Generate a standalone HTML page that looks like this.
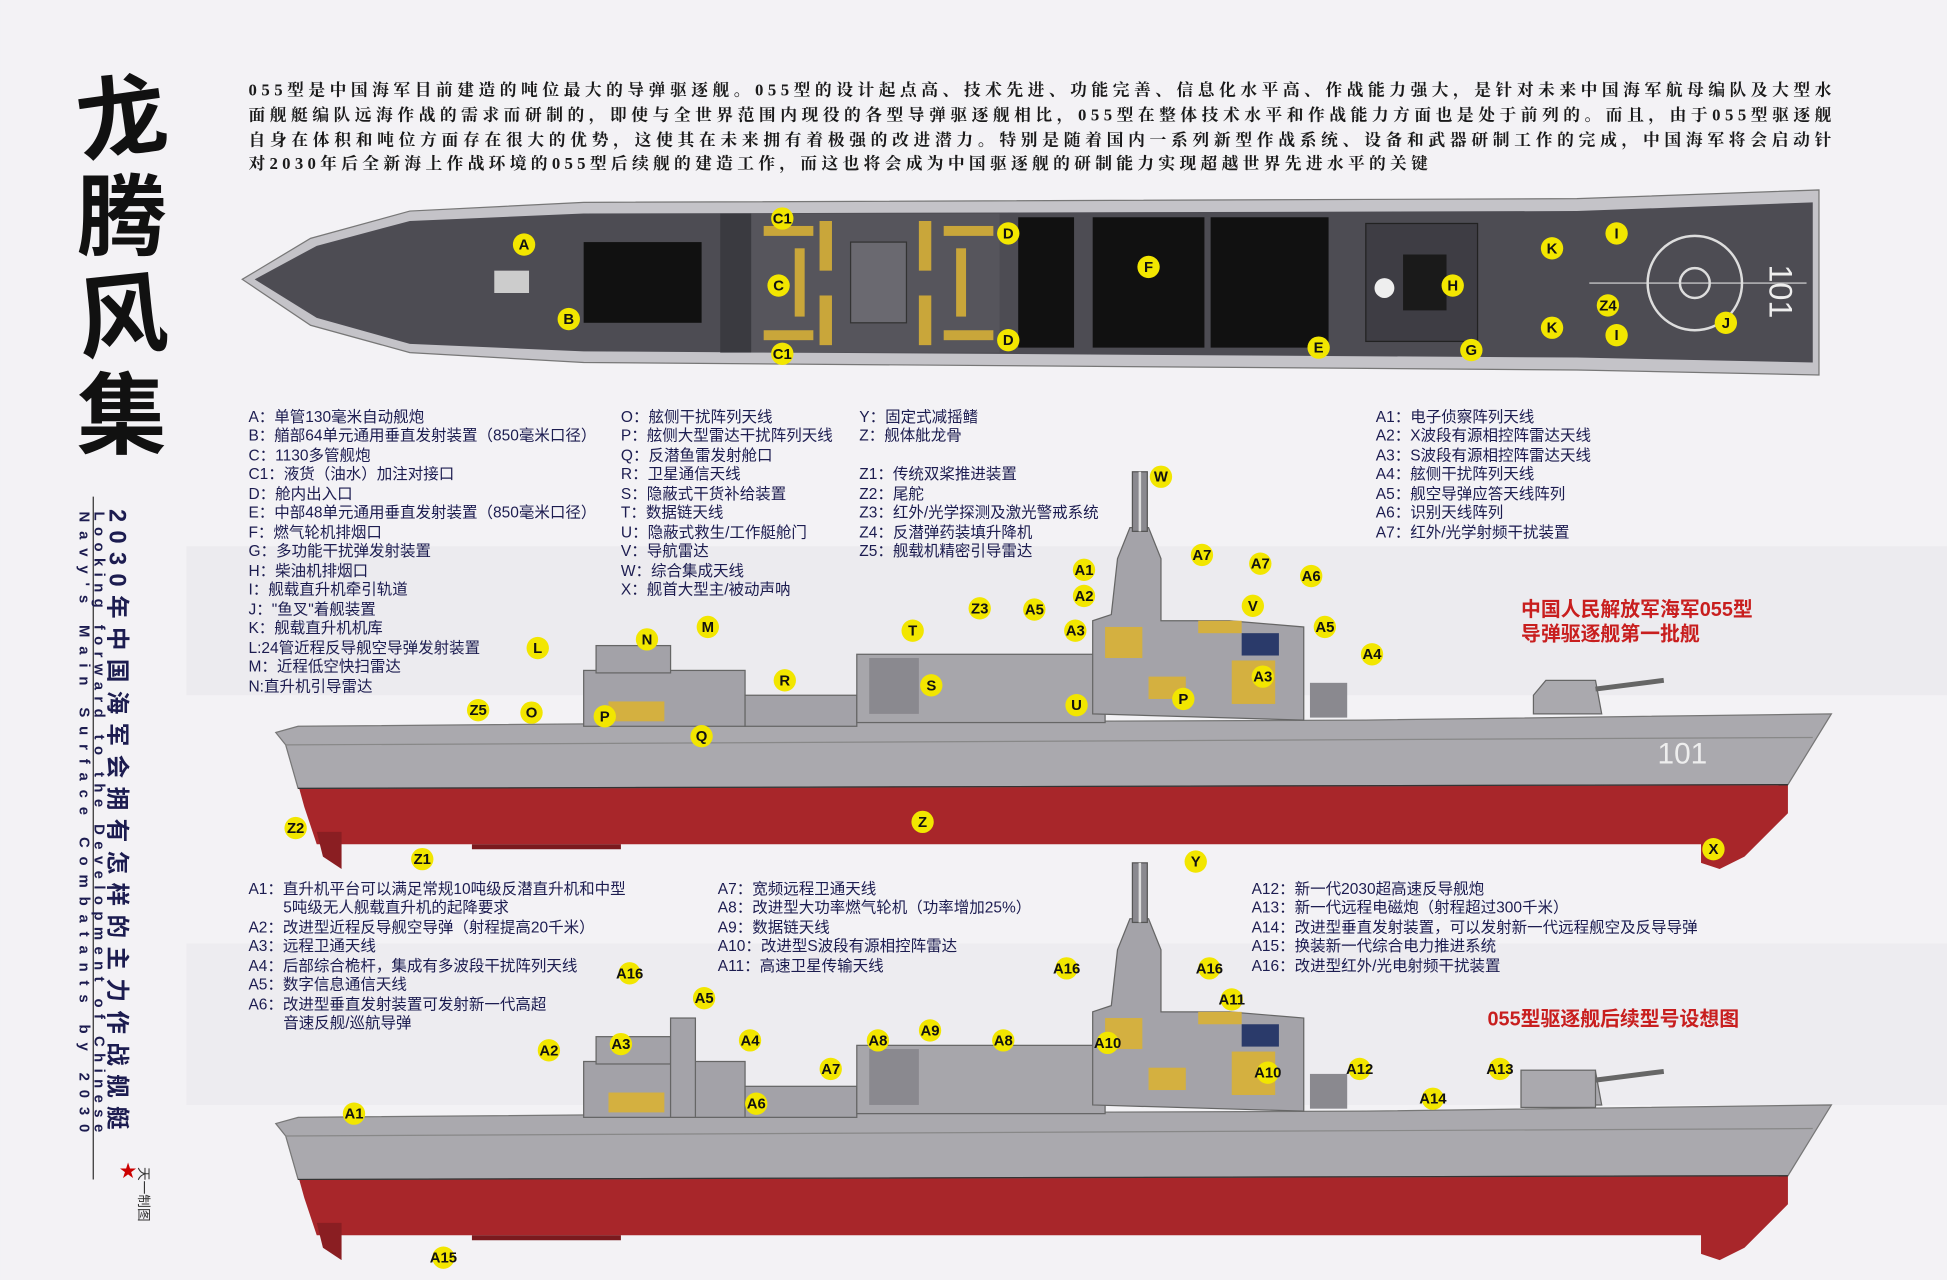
<!DOCTYPE html>
<html><head><meta charset="utf-8"><style>
html,body{margin:0;padding:0;background:#f3f2f5;}
svg{display:block}
text{font-family:"Liberation Sans","Noto Sans CJK SC",sans-serif;}
.lg{font-size:12.5px;fill:#1c1c50;}
.lb{font-size:12px;font-weight:bold;fill:#111;text-anchor:middle;}
.p{font-family:"Liberation Serif","Noto Serif CJK SC",serif;font-size:13.5px;fill:#1a1a1a;font-weight:bold;}
</style></head><body>
<svg width="1947" height="1280" viewBox="0 0 1568 1031" xmlns="http://www.w3.org/2000/svg">
<defs>
<g id="sl"><circle r="9" fill="#f2e600"/></g>
</defs>
<rect width="1568" height="1031" fill="#f3f2f5"/>
<rect x="150" y="440" width="1420" height="120" fill="#ecebef"/>
<rect x="150" y="760" width="1420" height="130" fill="#edecf0"/>

<g font-family="'Noto Serif CJK SC',serif" font-weight="bold" font-size="72" fill="#111">
<text x="62" y="120" transform="rotate(-8 100 95)">龙</text>
<text x="62" y="200">腾</text>
<text x="62" y="280" transform="rotate(-6 100 255)">风</text>
<text x="62" y="360">集</text>
</g>
<line x1="75" y1="400" x2="75" y2="950" stroke="#333" stroke-width="1"/>
<text transform="translate(88,410) rotate(90)" font-size="19" font-weight="bold" fill="#1c1c50" textLength="500">2030年中国海军会拥有怎样的主力作战舰艇</text>
<text transform="translate(76,412) rotate(90)" font-size="12" font-weight="bold" fill="#1c1c50" font-family="'Liberation Mono',monospace" textLength="500">Looking forward to the Development of Chinese</text>
<text transform="translate(64,412) rotate(90)" font-size="12" font-weight="bold" fill="#1c1c50" font-family="'Liberation Mono',monospace" textLength="500">Navy's Main Surface Combatants by 2030</text>
<text x="96" y="948" font-size="14" fill="#c00">★</text>
<text transform="translate(112,940) rotate(90)" font-size="11" fill="#333">天一制图</text>

<text class="p" x="200" y="77" textLength="1275">055型是中国海军目前建造的吨位最大的导弹驱逐舰。055型的设计起点高、技术先进、功能完善、信息化水平高、作战能力强大，是针对未来中国海军航母编队及大型水</text>
<text class="p" x="200" y="97" textLength="1275">面舰艇编队远海作战的需求而研制的，即使与全世界范围内现役的各型导弹驱逐舰相比，055型在整体技术水平和作战能力方面也是处于前列的。而且，由于055型驱逐舰</text>
<text class="p" x="200" y="117" textLength="1275">自身在体积和吨位方面存在很大的优势，这使其在未来拥有着极强的改进潜力。特别是随着国内一系列新型作战系统、设备和武器研制工作的完成，中国海军将会启动针</text>
<text class="p" x="200" y="136" textLength="950">对2030年后全新海上作战环境的055型后续舰的建造工作，而这也将会成为中国驱逐舰的研制能力实现超越世界先进水平的关键</text>

<polygon points="195,225 250,192 330,170 470,163 1270,160 1465,153 1465,302 1270,298 470,292 330,284 250,262" fill="#c4c3c8" stroke="#777" />
<polygon points="205,225 255,198 330,178 470,172 1270,170 1460,163 1460,292 1270,288 470,283 330,277 255,256" fill="#4d4c53"/>
<rect x="470" y="195" width="95" height="65" fill="#111"/>
<rect x="580" y="172" width="25" height="112" fill="#3a3a40"/>
<rect x="605" y="172" width="200" height="112" fill="#56555c"/>
<g fill="#c9a63a">
<rect x="615" y="182" width="40" height="8"/><rect x="615" y="266" width="40" height="8"/>
<rect x="660" y="178" width="10" height="40"/><rect x="660" y="238" width="10" height="40"/>
<rect x="740" y="178" width="10" height="40"/><rect x="740" y="238" width="10" height="40"/>
<rect x="760" y="182" width="40" height="8"/><rect x="760" y="266" width="40" height="8"/>
<rect x="640" y="200" width="8" height="55"/><rect x="770" y="200" width="8" height="55"/>
</g>
<rect x="685" y="195" width="45" height="65" fill="#6a6970" stroke="#333"/>
<rect x="820" y="175" width="45" height="105" fill="#111"/>
<rect x="880" y="175" width="90" height="105" fill="#111"/>
<rect x="975" y="175" width="95" height="105" fill="#111"/>
<rect x="1100" y="180" width="90" height="95" fill="#3e3d44" stroke="#222"/>
<rect x="1130" y="205" width="35" height="45" fill="#1a1a1a"/>
<circle cx="1365" cy="228" r="38" fill="none" stroke="#ddd" stroke-width="2"/>
<circle cx="1365" cy="228" r="12" fill="none" stroke="#ddd" stroke-width="2"/>
<line x1="1280" y1="228" x2="1455" y2="228" stroke="#ddd" stroke-width="1"/>
<text transform="translate(1425,213) rotate(90)" font-size="26" fill="#eee">101</text>
<rect x="398" y="218" width="28" height="18" fill="#ccc"/>
<circle cx="1115" cy="232" r="8" fill="#eee"/>
<g>
<use href="#sl" x="422" y="197"/><text class="lb" x="422" y="201">A</text>
<use href="#sl" x="458" y="257"/><text class="lb" x="458" y="261">B</text>
<use href="#sl" x="630" y="176"/><text class="lb" x="630" y="180">C1</text>
<use href="#sl" x="627" y="230"/><text class="lb" x="627" y="234">C</text>
<use href="#sl" x="630" y="285"/><text class="lb" x="630" y="289">C1</text>
<use href="#sl" x="812" y="188"/><text class="lb" x="812" y="192">D</text>
<use href="#sl" x="812" y="274"/><text class="lb" x="812" y="278">D</text>
<use href="#sl" x="925" y="215"/><text class="lb" x="925" y="219">F</text>
<use href="#sl" x="1062" y="280"/><text class="lb" x="1062" y="284">E</text>
<use href="#sl" x="1185" y="282"/><text class="lb" x="1185" y="286">G</text>
<use href="#sl" x="1170" y="230"/><text class="lb" x="1170" y="234">H</text>
<use href="#sl" x="1250" y="200"/><text class="lb" x="1250" y="204">K</text>
<use href="#sl" x="1250" y="264"/><text class="lb" x="1250" y="268">K</text>
<use href="#sl" x="1302" y="188"/><text class="lb" x="1302" y="192">I</text>
<use href="#sl" x="1302" y="270"/><text class="lb" x="1302" y="274">I</text>
<use href="#sl" x="1295" y="246"/><text class="lb" x="1295" y="250">Z4</text>
<use href="#sl" x="1390" y="260"/><text class="lb" x="1390" y="264">J</text>
</g>

<g class="lg">
<text x="200" y="340">A：单管130毫米自动舰炮</text>
<text x="200" y="355">B：艏部64单元通用垂直发射装置（850毫米口径）</text>
<text x="200" y="371">C：1130多管舰炮</text>
<text x="200" y="386">C1：液货（油水）加注对接口</text>
<text x="200" y="402">D：舱内出入口</text>
<text x="200" y="417">E：中部48单元通用垂直发射装置（850毫米口径）</text>
<text x="200" y="433">F：燃气轮机排烟口</text>
<text x="200" y="448">G：多功能干扰弹发射装置</text>
<text x="200" y="464">H：柴油机排烟口</text>
<text x="200" y="479">I：舰载直升机牵引轨道</text>
<text x="200" y="495">J："鱼叉"着舰装置</text>
<text x="200" y="510">K：舰载直升机机库</text>
<text x="200" y="526">L:24管近程反导舰空导弹发射装置</text>
<text x="200" y="541">M：近程低空快扫雷达</text>
<text x="200" y="557">N:直升机引导雷达</text>
<text x="500" y="340">O：舷侧干扰阵列天线</text>
<text x="500" y="355">P：舷侧大型雷达干扰阵列天线</text>
<text x="500" y="371">Q：反潜鱼雷发射舱口</text>
<text x="500" y="386">R：卫星通信天线</text>
<text x="500" y="402">S：隐蔽式干货补给装置</text>
<text x="500" y="417">T：数据链天线</text>
<text x="500" y="433">U：隐蔽式救生/工作艇舱门</text>
<text x="500" y="448">V：导航雷达</text>
<text x="500" y="464">W：综合集成天线</text>
<text x="500" y="479">X：舰首大型主/被动声呐</text>
<text x="692" y="340">Y：固定式减摇鳍</text>
<text x="692" y="355">Z：舰体舭龙骨</text>
<text x="692" y="386">Z1：传统双桨推进装置</text>
<text x="692" y="402">Z2：尾舵</text>
<text x="692" y="417">Z3：红外/光学探测及激光警戒系统</text>
<text x="692" y="433">Z4：反潜弹药装填升降机</text>
<text x="692" y="448">Z5：舰载机精密引导雷达</text>
<text x="1108" y="340">A1：电子侦察阵列天线</text>
<text x="1108" y="355">A2：X波段有源相控阵雷达天线</text>
<text x="1108" y="371">A3：S波段有源相控阵雷达天线</text>
<text x="1108" y="386">A4：舷侧干扰阵列天线</text>
<text x="1108" y="402">A5：舰空导弹应答天线阵列</text>
<text x="1108" y="417">A6：识别天线阵列</text>
<text x="1108" y="433">A7：红外/光学射频干扰装置</text>
</g>
<text x="1225" y="496" font-size="16" font-weight="bold" fill="#c81e1e">中国人民解放军海军055型</text>
<text x="1225" y="516" font-size="16" font-weight="bold" fill="#c81e1e">导弹驱逐舰第一批舰</text>

<g id="ship">
<polygon points="240,632 1440,632 1440,655 1405,690 1385,700 1370,695 1370,680 255,680 245,650" fill="#a8262a"/>
<polygon points="222,590 240,585 600,582 1100,580 1475,575 1440,632 240,635 230,600" fill="#aaa9ae" stroke="#777"/>
<line x1="230" y1="600" x2="1460" y2="594" stroke="#888"/>
<polygon points="255,670 260,690 275,700 275,670" fill="#8a1e22"/>
<polygon points="380,680 500,680 500,684 380,684" fill="#7a1a1e"/>
<rect x="470" y="540" width="130" height="45" fill="#a3a2a8" stroke="#666"/>
<rect x="480" y="520" width="60" height="22" fill="#a3a2a8" stroke="#666"/>
<rect x="490" y="565" width="45" height="16" fill="#d4b040"/>
<rect x="600" y="560" width="90" height="25" fill="#a3a2a8" stroke="#666"/>
<rect x="690" y="527" width="200" height="55" fill="#a7a6ab" stroke="#666"/>
<rect x="700" y="530" width="40" height="45" fill="#8a898f"/>
<polygon points="880,575 880,500 895,495 900,450 910,425 925,425 935,450 935,500 990,500 1050,505 1050,580" fill="#a4a3a9" stroke="#666"/>
<rect x="912" y="380" width="12" height="48" fill="#8a898f" stroke="#555"/>
<rect x="890" y="505" width="30" height="25" fill="#d4b040"/>
<rect x="925" y="545" width="30" height="18" fill="#d4b040"/>
<rect x="992" y="532" width="35" height="35" fill="#d4b040"/>
<rect x="965" y="500" width="35" height="10" fill="#d4b040"/>
<rect x="1000" y="510" width="30" height="18" fill="#2a3a6a"/>
<rect x="1055" y="550" width="30" height="28" fill="#8a898f"/>
<polygon points="1235,560 1245,548 1285,548 1290,575 1235,575" fill="#aaa9ae" stroke="#666"/>
<line x1="1285" y1="555" x2="1340" y2="548" stroke="#666" stroke-width="4"/>
<line x1="240" y1="635" x2="1440" y2="632" stroke="#333" stroke-width="1"/>
<line x1="918" y1="380" x2="918" y2="428" stroke="#ddd" stroke-width="2"/>
</g>
<text x="1335" y="615" font-size="24" fill="#eee">101</text>
<g>
<use href="#sl" x="935" y="384"/><text class="lb" x="935" y="388">W</text>
<use href="#sl" x="873" y="459"/><text class="lb" x="873" y="463">A1</text>
<use href="#sl" x="873" y="480"/><text class="lb" x="873" y="484">A2</text>
<use href="#sl" x="833" y="491"/><text class="lb" x="833" y="495">A5</text>
<use href="#sl" x="866" y="508"/><text class="lb" x="866" y="512">A3</text>
<use href="#sl" x="968" y="447"/><text class="lb" x="968" y="451">A7</text>
<use href="#sl" x="1015" y="454"/><text class="lb" x="1015" y="458">A7</text>
<use href="#sl" x="1056" y="464"/><text class="lb" x="1056" y="468">A6</text>
<use href="#sl" x="1009" y="488"/><text class="lb" x="1009" y="492">V</text>
<use href="#sl" x="1067" y="505"/><text class="lb" x="1067" y="509">A5</text>
<use href="#sl" x="1105" y="527"/><text class="lb" x="1105" y="531">A4</text>
<use href="#sl" x="1017" y="545"/><text class="lb" x="1017" y="549">A3</text>
<use href="#sl" x="789" y="490"/><text class="lb" x="789" y="494">Z3</text>
<use href="#sl" x="735" y="508"/><text class="lb" x="735" y="512">T</text>
<use href="#sl" x="750" y="552"/><text class="lb" x="750" y="556">S</text>
<use href="#sl" x="867" y="568"/><text class="lb" x="867" y="572">U</text>
<use href="#sl" x="953" y="563"/><text class="lb" x="953" y="567">P</text>
<use href="#sl" x="632" y="548"/><text class="lb" x="632" y="552">R</text>
<use href="#sl" x="570" y="505"/><text class="lb" x="570" y="509">M</text>
<use href="#sl" x="521" y="515"/><text class="lb" x="521" y="519">N</text>
<use href="#sl" x="433" y="522"/><text class="lb" x="433" y="526">L</text>
<use href="#sl" x="385" y="572"/><text class="lb" x="385" y="576">Z5</text>
<use href="#sl" x="428" y="574"/><text class="lb" x="428" y="578">O</text>
<use href="#sl" x="487" y="577"/><text class="lb" x="487" y="581">P</text>
<use href="#sl" x="565" y="593"/><text class="lb" x="565" y="597">Q</text>
<use href="#sl" x="743" y="662"/><text class="lb" x="743" y="666">Z</text>
<use href="#sl" x="238" y="667"/><text class="lb" x="238" y="671">Z2</text>
<use href="#sl" x="340" y="692"/><text class="lb" x="340" y="696">Z1</text>
<use href="#sl" x="963" y="694"/><text class="lb" x="963" y="698">Y</text>
<use href="#sl" x="1380" y="684"/><text class="lb" x="1380" y="688">X</text>
</g>

<g class="lg">
<text x="200" y="720">A1：直升机平台可以满足常规10吨级反潜直升机和中型</text>
<text x="228" y="735">5吨级无人舰载直升机的起降要求</text>
<text x="200" y="751">A2：改进型近程反导舰空导弹（射程提高20千米）</text>
<text x="200" y="766">A3：远程卫通天线</text>
<text x="200" y="782">A4：后部综合桅杆，集成有多波段干扰阵列天线</text>
<text x="200" y="797">A5：数字信息通信天线</text>
<text x="200" y="813">A6：改进型垂直发射装置可发射新一代高超</text>
<text x="228" y="828">音速反舰/巡航导弹</text>
<text x="578" y="720">A7：宽频远程卫通天线</text>
<text x="578" y="735">A8：改进型大功率燃气轮机（功率增加25%）</text>
<text x="578" y="751">A9：数据链天线</text>
<text x="578" y="766">A10：改进型S波段有源相控阵雷达</text>
<text x="578" y="782">A11：高速卫星传输天线</text>
<text x="1008" y="720">A12：新一代2030超高速反导舰炮</text>
<text x="1008" y="735">A13：新一代远程电磁炮（射程超过300千米）</text>
<text x="1008" y="751">A14：改进型垂直发射装置，可以发射新一代远程舰空及反导导弹</text>
<text x="1008" y="766">A15：换装新一代综合电力推进系统</text>
<text x="1008" y="782">A16：改进型红外/光电射频干扰装置</text>
</g>
<text x="1198" y="826" font-size="16" font-weight="bold" fill="#c81e1e">055型驱逐舰后续型号设想图</text>

<use href="#ship" x="0" y="315"/>
<rect x="1225" y="862" width="60" height="30" fill="#aaa9ae" stroke="#666"/>
<rect x="540" y="820" width="20" height="80" fill="#a4a3a9" stroke="#666"/>
<g>
<use href="#sl" x="507" y="784"/><text class="lb" x="507" y="788">A16</text>
<use href="#sl" x="567" y="804"/><text class="lb" x="567" y="808">A5</text>
<use href="#sl" x="604" y="838"/><text class="lb" x="604" y="842">A4</text>
<use href="#sl" x="442" y="846"/><text class="lb" x="442" y="850">A2</text>
<use href="#sl" x="500" y="841"/><text class="lb" x="500" y="845">A3</text>
<use href="#sl" x="285" y="897"/><text class="lb" x="285" y="901">A1</text>
<use href="#sl" x="609" y="889"/><text class="lb" x="609" y="893">A6</text>
<use href="#sl" x="669" y="861"/><text class="lb" x="669" y="865">A7</text>
<use href="#sl" x="707" y="838"/><text class="lb" x="707" y="842">A8</text>
<use href="#sl" x="749" y="830"/><text class="lb" x="749" y="834">A9</text>
<use href="#sl" x="808" y="838"/><text class="lb" x="808" y="842">A8</text>
<use href="#sl" x="859" y="780"/><text class="lb" x="859" y="784">A16</text>
<use href="#sl" x="974" y="780"/><text class="lb" x="974" y="784">A16</text>
<use href="#sl" x="992" y="805"/><text class="lb" x="992" y="809">A11</text>
<use href="#sl" x="892" y="840"/><text class="lb" x="892" y="844">A10</text>
<use href="#sl" x="1021" y="864"/><text class="lb" x="1021" y="868">A10</text>
<use href="#sl" x="1095" y="861"/><text class="lb" x="1095" y="865">A12</text>
<use href="#sl" x="1208" y="861"/><text class="lb" x="1208" y="865">A13</text>
<use href="#sl" x="1154" y="885"/><text class="lb" x="1154" y="889">A14</text>
<use href="#sl" x="357" y="1013"/><text class="lb" x="357" y="1017">A15</text>
</g>
</svg>
</body></html>
